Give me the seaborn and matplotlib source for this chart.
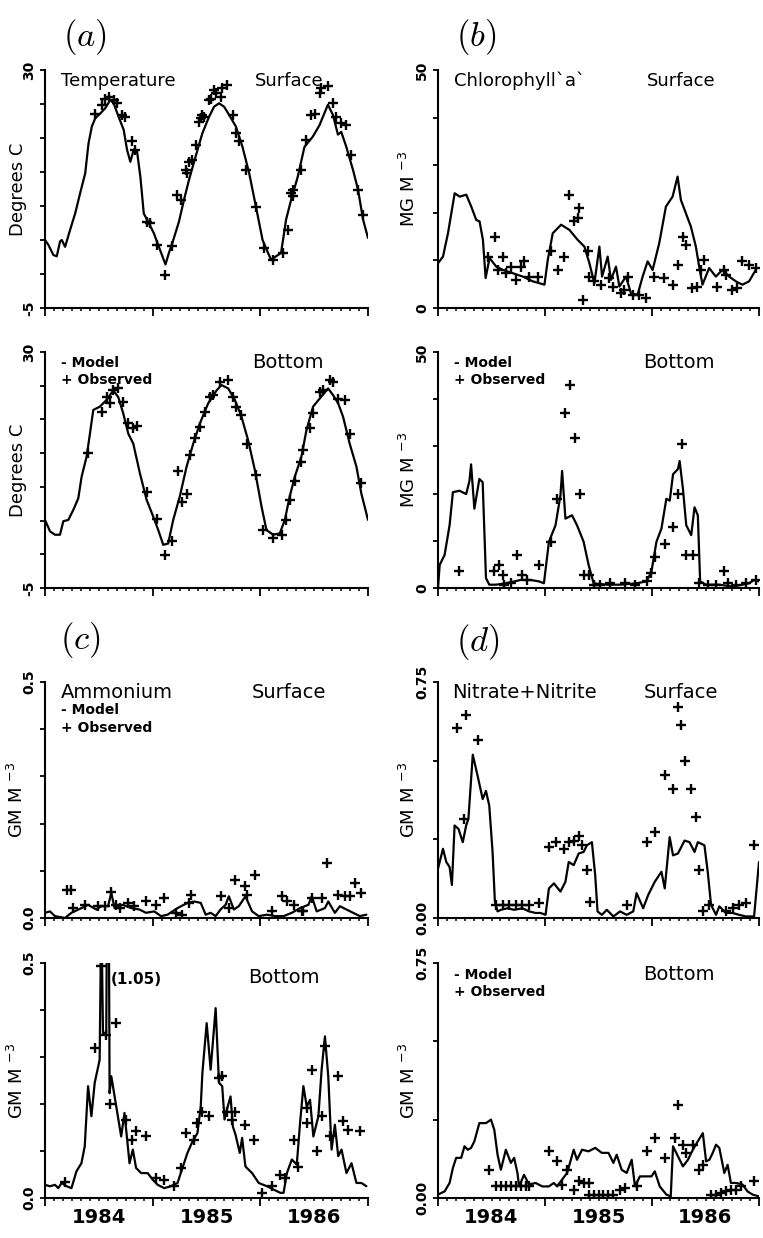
import numpy as np
import pandas as pd
import matplotlib
matplotlib.use('Agg')
import matplotlib.pyplot as plt
import matplotlib.transforms as mtransforms
import seaborn as sns

# --- 1. Style ---
sns.set_style('ticks')
plt.rcParams['font.family'] = ['DejaVu Sans']
plt.rcParams['axes.unicode_minus'] = False
plt.rcParams['axes.linewidth'] = 1.5
for key in ['text.color', 'axes.labelcolor', 'axes.edgecolor', 'xtick.color', 'ytick.color']:
    plt.rcParams[key] = 'black'

# --- 2. Data (x = months since Jan 1984) ---
temp_surf_model = [(0.0, 5.0), (0.37, 4.3), (0.93, 2.8), (1.31, 2.6), (1.68, 4.8), (1.87, 5.0), (2.24, 4.0),
                   (2.80, 6.5), (3.36, 8.9), (3.92, 11.9), (4.48, 14.8), (4.85, 19.2), (5.22, 21.7), (5.60, 22.9),
                   (6.16, 23.6), (6.72, 24.4), (7.28, 25.6), (7.65, 25.1), (8.21, 23.1), (8.77, 21.2), (9.14, 18.3),
                   (9.51, 16.5), (9.89, 18.3), (10.26, 18.0), (10.63, 14.3), (11.01, 8.9), (11.57, 7.5), (12.13, 6.0),
                   (12.69, 4.0), (13.43, 1.4), (13.81, 3.1), (14.18, 4.5), (14.93, 7.7), (15.49, 10.9), (16.04, 13.8),
                   (16.79, 17.3), (17.54, 20.7), (18.28, 23.1), (18.84, 24.6), (19.40, 25.1), (19.96, 24.6),
                   (20.52, 23.4), (21.27, 21.7), (22.01, 18.7), (22.76, 14.8), (23.51, 9.9), (24.25, 5.0),
                   (24.63, 3.8), (25.19, 2.1), (25.75, 2.6), (26.31, 3.1), (26.87, 8.0), (27.43, 10.9), (28.17, 14.3),
                   (28.92, 18.7), (29.85, 20.2), (30.60, 21.9), (31.53, 24.9), (32.09, 23.4), (32.65, 20.5),
                   (33.02, 20.9), (33.58, 18.7), (34.33, 15.3), (34.89, 12.4), (35.45, 8.0), (36.0, 5.3)]
temp_surf_obs = [(5.60, 23.6), (6.34, 24.9), (6.72, 25.8), (7.09, 26.1), (7.65, 25.6), (8.02, 25.1), (8.58, 23.4),
                 (8.96, 23.1), (9.70, 19.5), (10.07, 18.3), (11.38, 7.7), (11.75, 7.5), (12.50, 4.3), (13.43, -0.1),
                 (14.18, 4.1), (14.74, 11.6), (15.11, 10.9), (15.67, 15.3), (15.86, 14.8), (16.04, 16.5),
                 (16.42, 16.8), (16.79, 19.0), (17.16, 22.4), (17.35, 22.9), (17.54, 23.4), (17.72, 23.1),
                 (18.28, 25.6), (18.47, 25.8), (18.84, 27.1), (19.03, 26.6), (19.59, 26.1), (19.78, 27.3),
                 (20.34, 27.8), (20.90, 23.4), (21.27, 20.7), (21.64, 19.5), (22.39, 15.3), (23.51, 9.9),
                 (24.44, 3.8), (25.37, 2.1), (26.49, 3.1), (27.05, 6.5), (27.43, 11.9), (27.61, 12.4), (27.61, 11.4),
                 (28.54, 15.3), (29.10, 19.7), (29.66, 23.4), (30.04, 23.6), (30.60, 26.6), (30.78, 27.3),
                 (31.53, 27.6), (32.09, 25.1), (32.46, 23.1), (33.02, 22.2), (33.58, 21.9), (34.14, 17.5),
                 (34.89, 12.4), (35.45, 8.7)]

temp_bot_model = [(0.0, 5.1), (0.56, 3.4), (1.11, 2.9), (1.67, 2.9), (2.04, 4.9), (2.60, 5.1), (3.16, 6.6),
                  (3.71, 8.3), (4.08, 11.5), (4.64, 14.5), (5.01, 17.9), (5.38, 21.4), (6.12, 21.9), (6.87, 22.9),
                  (7.61, 24.3), (8.17, 23.3), (8.72, 20.9), (9.28, 17.9), (9.84, 16.4), (10.58, 12.0), (11.32, 8.1),
                  (12.06, 5.6), (12.62, 3.6), (13.18, 1.4), (13.73, 1.6), (14.29, 5.1), (15.03, 8.6), (15.78, 13.0),
                  (16.52, 16.4), (17.26, 19.4), (18.19, 22.4), (19.12, 24.3), (19.67, 25.1), (20.42, 24.6),
                  (21.16, 22.9), (21.90, 20.4), (22.64, 16.9), (23.39, 12.5), (24.13, 7.1), (24.68, 3.6),
                  (25.43, 2.9), (26.17, 3.1), (26.73, 5.1), (27.28, 8.6), (27.84, 11.5), (28.58, 14.5),
                  (29.14, 18.4), (29.88, 21.9), (30.62, 23.1), (31.55, 24.6), (32.11, 23.6), (32.67, 22.4),
                  (33.22, 20.4), (33.96, 16.4), (34.71, 13.0), (35.26, 9.0), (36.0, 5.1)]
temp_bot_obs = [(4.83, 15.0), (6.31, 21.1), (6.87, 23.3), (7.24, 22.4), (7.61, 24.3), (8.17, 24.6), (8.72, 22.6),
                (9.28, 19.4), (9.84, 18.7), (10.21, 19.0), (11.32, 9.3), (12.44, 5.3), (13.36, -0.1), (14.11, 1.9),
                (14.85, 12.3), (15.22, 7.8), (15.78, 9.0), (16.15, 14.7), (16.70, 17.2), (17.26, 18.9),
                (17.82, 21.1), (18.37, 23.3), (18.75, 23.6), (19.49, 25.6), (20.42, 25.8), (20.97, 23.3),
                (21.34, 21.9), (21.90, 20.6), (22.46, 16.4), (23.57, 11.8), (24.31, 3.6), (25.43, 2.4),
                (26.36, 2.9), (26.91, 5.1), (27.28, 8.1), (27.84, 10.8), (28.58, 13.7), (28.77, 15.5),
                (29.51, 18.7), (29.88, 20.9), (30.62, 24.1), (30.99, 24.3), (31.74, 25.8), (32.11, 25.6),
                (32.67, 23.1), (33.41, 22.9), (33.96, 17.9), (35.26, 10.5)]

chl_surf_model = [(0.0, 9.4), (0.56, 10.8), (1.12, 15.7), (1.87, 24.1), (2.43, 23.4), (3.17, 23.8), (3.73, 21.3),
                  (4.29, 18.5), (4.66, 18.2), (5.04, 14.3), (5.34, 6.3), (5.78, 10.5), (6.53, 8.7), (7.28, 8.0),
                  (8.40, 7.3), (9.51, 6.6), (10.63, 5.6), (11.38, 5.2), (11.94, 4.9), (12.31, 10.1), (12.87, 15.7),
                  (13.81, 17.5), (14.74, 16.4), (15.67, 14.3), (16.42, 12.9), (16.98, 9.4), (17.54, 5.2),
                  (18.10, 12.9), (18.40, 6.6), (19.03, 10.8), (19.40, 5.9), (19.96, 8.7), (20.34, 4.5),
                  (21.08, 6.6), (21.64, 3.1), (22.39, 2.8), (22.95, 6.6), (23.51, 9.8), (24.07, 8.0), (24.81, 13.6),
                  (25.56, 21.3), (26.31, 23.4), (26.87, 27.6), (27.24, 22.7), (27.80, 19.9), (28.36, 17.1),
                  (28.92, 12.9), (29.29, 8.7), (29.66, 4.9), (30.41, 8.4), (31.16, 6.6), (31.90, 8.0), (32.65, 6.6),
                  (33.40, 5.6), (34.14, 4.9), (34.89, 5.6), (35.63, 8.0)]
chl_surf_obs = [(5.60, 10.8), (6.34, 15.0), (6.72, 8.0), (7.28, 10.8), (7.65, 7.3), (8.21, 8.7), (8.77, 5.9),
                (9.33, 8.7), (9.70, 9.8), (10.26, 6.6), (11.19, 6.6), (12.69, 11.9), (13.43, 8.0), (14.18, 10.8),
                (14.74, 23.8), (15.30, 18.2), (15.67, 18.9), (15.86, 21.0), (16.31, 1.7), (16.79, 11.9),
                (16.98, 6.6), (17.54, 5.6), (18.28, 4.9), (19.22, 6.3), (19.59, 4.5), (20.52, 3.1), (20.90, 3.8),
                (21.27, 6.6), (21.83, 2.8), (22.57, 2.8), (23.32, 2.1), (24.25, 6.6), (25.37, 6.3), (26.31, 4.9),
                (26.87, 9.1), (27.43, 15.0), (27.80, 13.3), (28.54, 4.2), (29.10, 4.5), (29.48, 8.0), (29.85, 10.1),
                (31.34, 4.5), (32.09, 8.0), (32.28, 7.0), (33.02, 3.8), (33.58, 4.2), (34.14, 9.8), (34.89, 9.1),
                (35.63, 8.4)]

chl_bot_model = [(0.0, 0.0), (0.19, 4.9), (0.74, 7.0), (1.30, 13.3), (1.67, 20.3), (2.41, 20.6), (3.16, 19.9),
                 (3.53, 22.7), (3.71, 26.2), (4.08, 16.8), (4.64, 23.1), (5.01, 22.4), (5.38, 2.1), (5.75, 0.7),
                 (6.50, 0.7), (7.61, 1.0), (9.28, 1.7), (10.39, 1.7), (11.32, 1.4), (11.88, 1.0), (12.44, 9.8),
                 (13.18, 13.3), (13.73, 19.6), (13.92, 24.8), (14.29, 14.7), (15.03, 15.4), (15.59, 13.3),
                 (16.33, 9.8), (16.89, 4.9), (17.45, 1.0), (18.93, 0.7), (20.42, 0.7), (22.27, 1.0), (23.39, 1.4),
                 (23.94, 3.5), (24.50, 9.8), (25.06, 12.6), (25.61, 18.9), (25.99, 18.5), (26.36, 24.1),
                 (26.91, 25.2), (27.10, 26.9), (27.47, 21.0), (27.84, 13.3), (28.40, 11.2), (28.77, 17.1),
                 (29.14, 15.4), (29.40, 1.4), (30.07, 0.7), (31.55, 0.7), (33.04, 0.3), (34.15, 0.7), (34.89, 1.0),
                 (35.45, 1.7), (36.0, 1.4)]
chl_bot_obs = [(2.30, 3.5), (6.31, 3.5), (6.87, 4.9), (7.24, 2.8), (7.42, 0.7), (8.17, 1.0), (8.91, 7.0),
               (9.47, 2.8), (10.02, 1.7), (11.32, 4.9), (12.62, 9.8), (13.36, 18.9), (14.29, 37.1), (14.77, 43.0),
               (15.40, 31.8), (15.89, 19.9), (16.33, 2.8), (16.89, 2.8), (17.45, 0.7), (18.19, 0.7), (19.30, 1.0),
               (20.97, 1.0), (22.09, 0.7), (23.39, 1.4), (23.94, 3.1), (24.31, 6.6), (25.43, 9.4), (26.36, 12.9),
               (26.91, 19.9), (27.39, 30.5), (27.84, 7.0), (28.58, 7.0), (29.32, 1.0), (30.25, 0.7), (31.18, 0.7),
               (32.11, 3.5), (32.48, 1.0), (33.41, 0.7), (34.52, 1.0), (35.63, 1.7)]

nh4_surf_model = [(0.0, 0.011), (0.55, 0.014), (1.11, 0.004), (2.22, 0.0), (2.95, 0.011), (4.06, 0.021),
                  (4.80, 0.028), (5.72, 0.018), (6.28, 0.025), (7.02, 0.025), (7.39, 0.053), (7.75, 0.021),
                  (8.68, 0.028), (9.60, 0.021), (10.52, 0.018), (11.26, 0.011), (12.19, 0.014), (12.92, 0.004),
                  (13.66, 0.007), (14.77, 0.021), (15.88, 0.032), (16.62, 0.035), (17.36, 0.032), (17.91, 0.007),
                  (18.46, 0.011), (19.02, 0.004), (19.57, 0.018), (20.13, 0.028), (20.49, 0.046), (21.05, 0.018),
                  (21.60, 0.025), (22.34, 0.046), (23.08, 0.014), (23.82, 0.004), (24.74, 0.007), (25.66, 0.004),
                  (26.59, 0.004), (27.51, 0.011), (28.43, 0.021), (29.36, 0.028), (29.73, 0.046), (30.28, 0.014),
                  (31.20, 0.021), (31.57, 0.035), (32.31, 0.011), (32.87, 0.025), (33.60, 0.018), (34.34, 0.011),
                  (35.08, 0.004), (35.82, 0.007)]
nh4_surf_obs = [(2.40, 0.060), (2.95, 0.060), (3.14, 0.021), (4.43, 0.028), (5.91, 0.025), (6.65, 0.025),
                (7.39, 0.056), (7.94, 0.028), (8.31, 0.021), (9.23, 0.032), (9.97, 0.025), (11.26, 0.035),
                (12.37, 0.028), (13.29, 0.042), (14.59, 0.011), (15.32, 0.007), (16.06, 0.032), (16.25, 0.049),
                (19.57, 0.046), (20.49, 0.021), (21.23, 0.081), (22.34, 0.067), (22.53, 0.049), (23.45, 0.092),
                (25.30, 0.014), (26.40, 0.046), (26.96, 0.035), (27.70, 0.028), (28.62, 0.014), (28.80, 0.014),
                (29.73, 0.042), (30.83, 0.042), (31.39, 0.116), (32.68, 0.049), (33.42, 0.046), (33.97, 0.046),
                (34.53, 0.074), (35.27, 0.053)]

nh4_bot_model = [(0.0, 0.028), (0.55, 0.025), (1.11, 0.028), (1.48, 0.021), (1.85, 0.032), (2.40, 0.025),
                 (2.95, 0.021), (3.51, 0.057), (4.06, 0.074), (4.43, 0.110), (4.80, 0.238), (5.17, 0.174),
                 (5.54, 0.245), (6.09, 0.294), (6.28, 0.62), (6.46, 0.351), (6.83, 0.351), (7.02, 1.05),
                 (7.20, 0.223), (7.39, 0.259), (7.94, 0.195), (8.49, 0.131), (8.86, 0.181), (9.42, 0.074),
                 (9.79, 0.103), (10.15, 0.064), (10.71, 0.053), (11.45, 0.053), (12.00, 0.039), (12.56, 0.028),
                 (13.29, 0.021), (14.03, 0.025), (14.77, 0.032), (15.32, 0.064), (15.88, 0.096), (16.43, 0.120),
                 (16.99, 0.138), (17.36, 0.195), (17.54, 0.266), (18.02, 0.372), (18.46, 0.273), (19.02, 0.404),
                 (19.39, 0.245), (19.75, 0.238), (20.01, 0.167), (20.31, 0.191), (20.68, 0.216), (20.94, 0.152),
                 (21.23, 0.135), (21.71, 0.096), (21.97, 0.128), (22.34, 0.067), (23.08, 0.053), (23.82, 0.032),
                 (24.74, 0.025), (25.48, 0.018), (26.22, 0.011), (26.59, 0.011), (26.96, 0.053), (27.51, 0.082),
                 (28.06, 0.071), (28.43, 0.160), (28.80, 0.238), (29.17, 0.195), (29.54, 0.209), (29.91, 0.131),
                 (30.47, 0.174), (30.83, 0.273), (31.20, 0.344), (31.57, 0.259), (31.94, 0.103), (32.31, 0.156),
                 (32.68, 0.089), (33.05, 0.103), (33.60, 0.053), (34.16, 0.074), (34.71, 0.032), (35.27, 0.032),
                 (35.82, 0.025)]
nh4_bot_obs = [(2.22, 0.035), (5.54, 0.319), (6.28, 0.493), (6.83, 0.347), (7.20, 0.199), (7.94, 0.372),
               (9.05, 0.167), (9.68, 0.124), (10.15, 0.142), (11.26, 0.131), (12.37, 0.043), (13.29, 0.039),
               (14.40, 0.025), (15.14, 0.064), (15.69, 0.138), (16.62, 0.124), (16.99, 0.160), (17.54, 0.184),
               (18.28, 0.174), (19.39, 0.255), (19.75, 0.259), (20.31, 0.184), (20.86, 0.167), (21.23, 0.184),
               (22.34, 0.156), (23.26, 0.124), (24.19, 0.011), (25.30, 0.025), (26.22, 0.050), (26.77, 0.043),
               (27.70, 0.124), (28.25, 0.067), (29.17, 0.191), (29.17, 0.160), (29.73, 0.273), (30.28, 0.099),
               (30.83, 0.174), (31.20, 0.323), (31.76, 0.131), (32.68, 0.259), (33.23, 0.163), (33.79, 0.145),
               (35.08, 0.142)]

no3_surf_model = [(0.0, 0.157), (0.56, 0.220), (0.93, 0.178), (1.30, 0.162), (1.56, 0.105), (1.86, 0.294),
                  (2.30, 0.283), (2.78, 0.241), (3.16, 0.294), (3.41, 0.315), (3.90, 0.519), (4.45, 0.451),
                  (5.01, 0.378), (5.38, 0.404), (5.75, 0.357), (6.12, 0.210), (6.38, 0.052), (6.68, 0.021),
                  (7.05, 0.026), (7.80, 0.031), (8.54, 0.026), (9.47, 0.031), (10.21, 0.021), (10.95, 0.016),
                  (11.51, 0.016), (12.06, 0.010), (12.44, 0.094), (13.00, 0.110), (13.73, 0.084), (14.29, 0.115),
                  (14.66, 0.178), (15.22, 0.168), (15.78, 0.205), (16.33, 0.210), (16.70, 0.231), (17.26, 0.241),
                  (17.63, 0.136), (17.89, 0.021), (18.37, 0.010), (18.93, 0.026), (19.67, 0.005), (20.42, 0.021),
                  (21.16, 0.010), (21.90, 0.021), (22.27, 0.079), (23.01, 0.031), (23.57, 0.073), (24.31, 0.115),
                  (25.06, 0.147), (25.43, 0.094), (25.98, 0.257), (26.36, 0.199), (26.91, 0.205), (27.65, 0.246),
                  (28.21, 0.241), (28.77, 0.210), (29.14, 0.241), (29.88, 0.231), (30.25, 0.147), (30.62, 0.042),
                  (31.18, 0.010), (31.55, 0.037), (32.29, 0.016), (33.04, 0.016), (33.78, 0.010), (34.52, 0.005),
                  (35.45, 0.005), (36.0, 0.178)]
no3_surf_obs = [(2.15, 0.603), (3.16, 0.645), (4.45, 0.566), (2.97, 0.315), (6.50, 0.042), (7.24, 0.042),
                (7.98, 0.042), (8.72, 0.042), (9.47, 0.042), (10.21, 0.042), (11.32, 0.047), (12.44, 0.226),
                (13.18, 0.241), (14.11, 0.220), (14.66, 0.241), (15.22, 0.246), (15.78, 0.262), (16.15, 0.231),
                (16.70, 0.152), (17.08, 0.052), (21.16, 0.042), (23.39, 0.241), (24.31, 0.273), (25.43, 0.456),
                (26.36, 0.409), (26.91, 0.671), (27.28, 0.614), (27.65, 0.498), (28.40, 0.409), (28.95, 0.320),
                (29.32, 0.152), (29.69, 0.021), (30.44, 0.042), (32.29, 0.021), (33.04, 0.031), (33.78, 0.042),
                (34.52, 0.047), (35.45, 0.231)]

no3_bot_model = [(0.0, 0.011), (0.74, 0.021), (1.30, 0.048), (1.67, 0.096), (2.04, 0.128), (2.60, 0.128),
                 (2.97, 0.165), (3.34, 0.154), (3.71, 0.160), (4.08, 0.181), (4.64, 0.239), (5.38, 0.239),
                 (5.94, 0.250), (6.31, 0.218), (6.68, 0.138), (7.05, 0.090), (7.61, 0.154), (8.17, 0.112),
                 (8.54, 0.128), (8.91, 0.080), (9.09, 0.037), (9.65, 0.074), (10.21, 0.043), (10.95, 0.048),
                 (11.69, 0.037), (12.43, 0.037), (12.99, 0.048), (13.36, 0.037), (13.92, 0.059), (14.48, 0.080),
                 (15.22, 0.154), (15.59, 0.122), (16.15, 0.154), (16.89, 0.149), (17.63, 0.160), (18.37, 0.144),
                 (19.12, 0.144), (19.67, 0.112), (20.04, 0.138), (20.60, 0.090), (21.16, 0.080), (21.72, 0.122),
                 (22.09, 0.037), (22.64, 0.069), (23.20, 0.069), (23.94, 0.069), (24.31, 0.085), (24.87, 0.037),
                 (25.61, 0.011), (26.10, 0.005), (26.36, 0.165), (26.91, 0.133), (27.47, 0.101), (28.03, 0.122),
                 (28.58, 0.154), (29.14, 0.181), (29.70, 0.207), (30.07, 0.117), (30.44, 0.122), (30.81, 0.144),
                 (31.18, 0.170), (31.55, 0.160), (32.11, 0.080), (32.48, 0.106), (32.85, 0.048), (33.41, 0.048),
                 (34.15, 0.043), (34.71, 0.021), (35.27, 0.011), (36.0, 0.005)]
no3_bot_obs = [(5.68, 0.090), (6.50, 0.037), (7.05, 0.037), (7.61, 0.037), (8.17, 0.037), (8.72, 0.037),
               (9.28, 0.037), (9.84, 0.037), (10.21, 0.037), (12.43, 0.149), (13.36, 0.117), (13.92, 0.043),
               (14.48, 0.090), (15.22, 0.027), (15.78, 0.053), (16.33, 0.048), (16.89, 0.048), (16.89, 0.011),
               (17.45, 0.011), (18.00, 0.011), (18.56, 0.011), (19.12, 0.011), (19.67, 0.011), (20.42, 0.027),
               (20.97, 0.032), (22.27, 0.037), (23.39, 0.149), (24.31, 0.191), (25.43, 0.128), (26.54, 0.191),
               (26.91, 0.298), (27.47, 0.170), (27.84, 0.144), (28.58, 0.170), (29.32, 0.090), (29.70, 0.106),
               (30.62, 0.011), (31.18, 0.011), (31.74, 0.016), (32.29, 0.021), (32.85, 0.027), (33.41, 0.027),
               (33.97, 0.037), (35.45, 0.053)]

year_labels = ['1984', '1985', '1986']

# --- 3. Figure / layout in pixels ---
W, H = 763, 1238
fig = plt.figure(figsize=(W / 100, H / 100), dpi=100)

cols = [(45, 368), (438, 759)]
rows = [(70, 308), (352, 588), (682, 918), (963, 1198)]


def make_ax(col, row):
    x0, x1 = cols[col]
    y0, y1 = rows[row]
    return fig.add_axes([x0 / W, 1 - y1 / H, (x1 - x0) / W, (y1 - y0) / H])


def draw_panel(ax, model, obs, ylim, step, ylabel, label_x, bottom_row=False):
    dm = pd.DataFrame(model, columns=['t', 'v'])
    do = pd.DataFrame(obs, columns=['t', 'v'])
    sns.lineplot(data=dm, x='t', y='v', ax=ax, color='k', lw=1.6, estimator=None, sort=False)
    sns.scatterplot(data=do, x='t', y='v', ax=ax, color='k', marker='+', s=55, linewidth=1.7, zorder=3)
    ax.set_xlim(0, 36)
    ax.set_ylim(*ylim)
    sns.despine(ax=ax)

    # x: year boundaries + monthly minor ticks
    ax.set_xticks([0, 12, 24, 36])
    ax.set_xticks([m for m in range(37) if m % 12], minor=True)
    ax.set_xticklabels([])
    ax.tick_params(axis='x', which='major', length=5.5, width=1.3, direction='out')
    ax.tick_params(axis='x', which='minor', length=2.5, width=1.1, direction='out')

    # y: only end values labelled, rotated
    yt = np.linspace(ylim[0], ylim[1], int(round((ylim[1] - ylim[0]) / step)) + 1)
    ax.set_yticks(yt)
    fmt = {5: '{:.0f}', 10: '{:.0f}', 0.1: '{:.1f}', 0.25: '{:.2f}'}[step]
    labs = [''] * len(yt)
    labs[0] = fmt.format(ylim[0])
    labs[-1] = fmt.format(ylim[1])
    ax.set_yticklabels(labs, rotation=90, va='center', fontsize=10, fontweight='bold')
    ax.tick_params(axis='y', length=3.5, width=1.3, pad=3)

    ax.set_xlabel('')
    ax.set_ylabel(ylabel, fontsize=13)
    ax.yaxis.set_label_coords(label_x, 0.5)

    if bottom_row:
        trans = mtransforms.blended_transform_factory(ax.transData, ax.transAxes)
        for i, lab in enumerate(year_labels):
            ax.text(6 + 12 * i, -0.085, lab, transform=trans, ha='center', va='center',
                    fontsize=14, fontweight='bold')


def legend_text(ax, y1, y2):
    ax.text(0.05, y1, '- Model', transform=ax.transAxes, fontsize=10, fontweight='bold', va='center')
    ax.text(0.05, y2, '+ Observed', transform=ax.transAxes, fontsize=10, fontweight='bold', va='center')


mg = 'MG M $^{-3}$'
gm = 'GM M $^{-3}$'

# (a) temperature
ax = make_ax(0, 0)
draw_panel(ax, temp_surf_model, temp_surf_obs, (-5, 30), 5, 'Degrees C', -0.055)
ax.text(0.05, 0.955, 'Temperature', transform=ax.transAxes, fontsize=13, va='center')
ax.text(0.65, 0.955, 'Surface', transform=ax.transAxes, fontsize=13, va='center')

ax = make_ax(0, 1)
draw_panel(ax, temp_bot_model, temp_bot_obs, (-5, 30), 5, 'Degrees C', -0.055)
ax.text(0.64, 0.955, 'Bottom', transform=ax.transAxes, fontsize=14, va='center')
legend_text(ax, 0.955, 0.88)

# (b) chlorophyll
ax = make_ax(1, 0)
draw_panel(ax, chl_surf_model, chl_surf_obs, (0, 50), 10, mg, -0.06)
ax.text(0.05, 0.955, "Chlorophyll`a`", transform=ax.transAxes, fontsize=13, va='center')
ax.text(0.65, 0.955, 'Surface', transform=ax.transAxes, fontsize=13, va='center')

ax = make_ax(1, 1)
draw_panel(ax, chl_bot_model, chl_bot_obs, (0, 50), 10, mg, -0.06)
ax.text(0.64, 0.955, 'Bottom', transform=ax.transAxes, fontsize=14, va='center')
legend_text(ax, 0.955, 0.88)

# (c) ammonium
ax = make_ax(0, 2)
draw_panel(ax, nh4_surf_model, nh4_surf_obs, (0, 0.5), 0.1, gm, -0.055)
ax.text(0.05, 0.955, 'Ammonium', transform=ax.transAxes, fontsize=14, va='center')
ax.text(0.64, 0.955, 'Surface', transform=ax.transAxes, fontsize=14, va='center')
legend_text(ax, 0.88, 0.805)

ax = make_ax(0, 3)
draw_panel(ax, nh4_bot_model, nh4_bot_obs, (0, 0.5), 0.1, gm, -0.055, bottom_row=True)
ax.text(0.205, 0.93, '(1.05)', transform=ax.transAxes, fontsize=11, fontweight='bold', va='center')
ax.text(0.63, 0.94, 'Bottom', transform=ax.transAxes, fontsize=14, va='center')

# (d) nitrate + nitrite
ax = make_ax(1, 2)
draw_panel(ax, no3_surf_model, no3_surf_obs, (0, 0.75), 0.25, gm, -0.06)
ax.text(0.045, 0.955, 'Nitrate+Nitrite', transform=ax.transAxes, fontsize=14, va='center')
ax.text(0.64, 0.955, 'Surface', transform=ax.transAxes, fontsize=14, va='center')

ax = make_ax(1, 3)
draw_panel(ax, no3_bot_model, no3_bot_obs, (0, 0.75), 0.25, gm, -0.06, bottom_row=True)
ax.text(0.64, 0.95, 'Bottom', transform=ax.transAxes, fontsize=14, va='center')
legend_text(ax, 0.95, 0.875)

# panel letters
for lab, px, py in [('a', 85, 37), ('b', 476, 37), ('c', 80, 640), ('d', 478, 642)]:
    fig.text(px / W, 1 - py / H, '$(' + lab + ')$', fontsize=25, ha='center', va='center',
             math_fontfamily='cm')

fig.savefig('out.png', dpi=100)
